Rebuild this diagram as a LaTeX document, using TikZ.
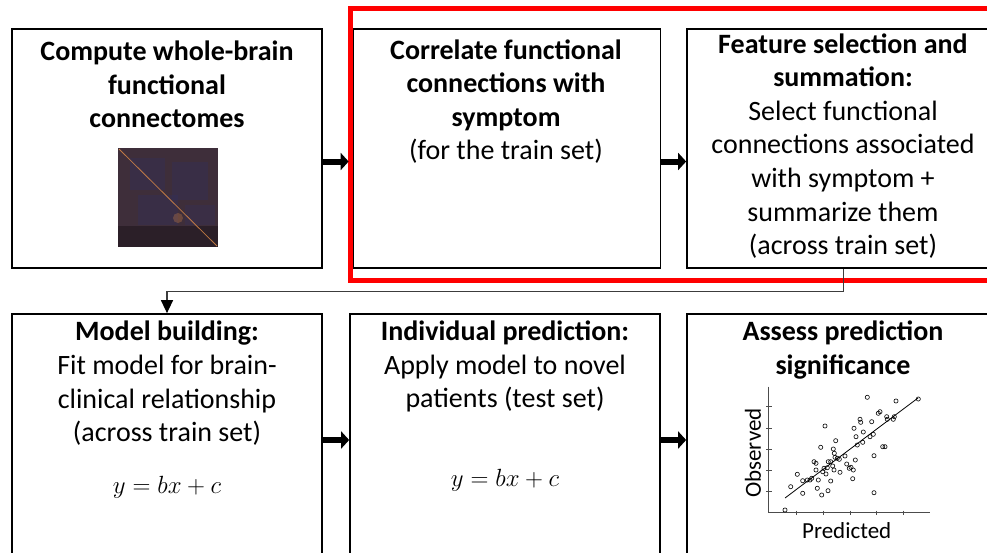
\documentclass[tikz,border=0pt]{standalone}
\usepackage{fontspec}
\setmainfont{Carlito}
\usetikzlibrary{arrows.meta}
\definecolor{redbox}{RGB}{255,0,0}
\definecolor{matbg}{RGB}{62,46,58}
\definecolor{matblue}{RGB}{50,48,95}
\definecolor{matorange}{RGB}{215,135,70}
\definecolor{connc}{RGB}{60,60,60}
\tikzset{
  box/.style={draw=black, line width=1.7pt, inner sep=0pt, fill=none},
  txt/.style={font=\fontsize{28}{33.6}\selectfont, align=center, inner sep=0pt},
  mth/.style={font=\fontsize{30}{34}\selectfont, inner sep=0pt},
  small/.style={font=\fontsize{23}{27}\selectfont, inner sep=0pt},
  bigarrow/.style={line width=6pt, -{Triangle[length=8pt,width=17pt]}},
  conn/.style={draw=connc, line width=1.3pt, -{Triangle[length=13pt,width=12pt,color=black]}},
  dot/.style={line width=0.6pt}
}
\begin{document}
\begin{tikzpicture}[x=1pt,y=-1pt]
\useasboundingbox (0,0) rectangle (987,552);
\fill[white] (0,0) rectangle (987,552);

% boxes
\node[box, minimum width=310pt, minimum height=239pt] (b1) at (167,148.5) {};
\node[box, minimum width=307pt, minimum height=239pt] (b2) at (507,148.5) {};
\node[box, minimum width=313pt, minimum height=239pt] (b3) at (843.5,148.5) {};
\node[box, minimum width=310pt, minimum height=256pt] (b4) at (167,442) {};
\node[box, minimum width=310pt, minimum height=256pt] (b5) at (505,442) {};
\node[box, minimum width=313pt, minimum height=256pt] (b6) at (843.5,442) {};

% red frame
\draw[redbox, line width=4.5pt] (350.5,8.5) rectangle (1000,280.5);

% texts
\node[txt] (t1) at (167,84.5) {\bfseries Compute whole-brain\\\bfseries functional\\\bfseries connectomes};
\node[txt] (t2) at (506,101.5) {\bfseries Correlate functional\\\bfseries connections with\\\bfseries symptom\\(for the train set)};
\node[txt] (t3) at (843,146) {\bfseries Feature selection and\\\bfseries summation:\\Select functional\\connections associated\\with symptom +\\summarize them\\(across train set)};
\node[txt] (t4) at (167,383.5) {\bfseries Model building:\\Fit model for brain-\\clinical relationship\\(across train set)};
\node[txt] (t5) at (505,366.5) {\bfseries Individual prediction:\\Apply model to novel\\patients (test set)};
\node[txt] (t6) at (843,350) {\bfseries Assess prediction\\\bfseries significance};
\node[mth] (m4) at (167,487) {$y=bx+c$};
\node[mth] (m5) at (505,480) {$y=bx+c$};

% connectome matrix
\fill[matbg] (118,148) rectangle (218,247);
\fill[matblue, opacity=0.35] (130,158) rectangle (165,190);
\fill[matblue, opacity=0.35] (138,195) rectangle (178,225);
\fill[matblue, opacity=0.35] (172,162) rectangle (208,200);
\fill[matblue, opacity=0.3] (185,205) rectangle (215,225);
\fill[matorange, opacity=0.3] (178,218) circle (5pt);
\fill[black!60!matbg, opacity=0.5] (118,226) rectangle (218,247);
\draw[matorange, line width=0.8pt, opacity=0.85] (119,149) -- (217,246);

% big arrows
\draw[bigarrow] ([yshift=-13pt]b1.east) -- ([yshift=-13pt,xshift=-4pt]b2.west);
\draw[bigarrow] ([yshift=-13pt]b2.east) -- ([yshift=-13pt]b3.west);
\draw[bigarrow] ([yshift=2pt]b4.east) -- ([yshift=2pt]b5.west);
\draw[bigarrow] ([yshift=2pt]b5.east) -- ([yshift=2pt]b6.west);

% connector from b3 to b4
\draw[conn] (b3.south) -- ++(0,22.5) -| (b4.north);

% scatter plot
\draw[line width=0.6pt, black!70] (768.3,386.7) -- (768.3,512.7) -- (930,512.7);
\foreach \yy in {406.7,428.3,449,470,491}
  \draw[line width=0.6pt, black!70] (766,\yy) -- (771.5,\yy);
\foreach \xx in {796.7,823.3,850,876.7,903.3}
  \draw[line width=0.6pt, black!70] (\xx,510.5) -- (\xx,515);
\draw[line width=0.8pt] (785,498) -- (918,398);
\foreach \p in {(785.0,510.0),(790.7,486.7),(797.3,474.3),(802.7,493.3),(802.7,480.7),(807.3,480.0),(810,480),(811.7,478.3),(814,461.7),(816,463.3),(816,470),(818.3,480),(817.3,488.3),(821.7,495),(820.7,447.3),(822.7,471.7),(824,468.3),(825,426),(826,474),(827.3,467.7),(828,490.7),(828.3,461.7),(830.7,481),(830.7,461.7),(832.7,466),(833.3,449),(834.3,453.3),(834,470),(835,457.3),(835.7,440.7),(837.3,458.3),(839.3,459.3),(840,472.3),(845,456),(846.7,464),(849.3,468.3),(851,467.3),(852.7,478.7),(853.3,470),(854,428.3),(855.3,460),(856,436.7),(857.3,445),(860,419.3),(860.7,422.3),(862.7,442.3),(863.3,432),(867.3,397.3),(870,436.7),(871.7,421.7),(873.3,434.3),(874,492.7),(874,455.7),(878.3,413.3),(880,411.7),(882.7,446.7),(885,446.7),(886.7,416.7),(887.3,419.3),(893.3,419.3),(894.3,416.7),(896,401),(918.3,399)}
  \draw[dot] \p circle (2.1pt);
\node[small, rotate=90] (obs) at (753,453) {Observed};
\node[small] (pred) at (846.7,531) {Predicted};
\end{tikzpicture}
\end{document}
